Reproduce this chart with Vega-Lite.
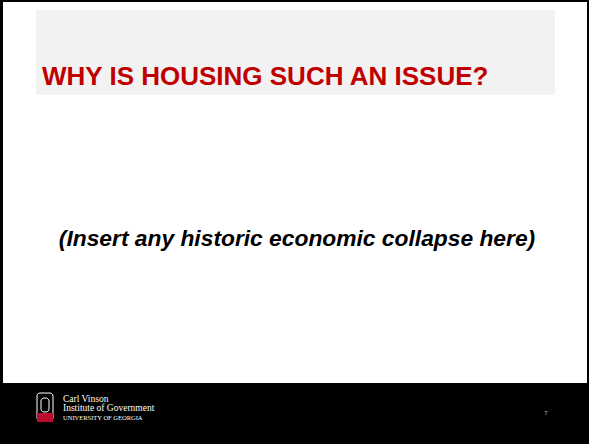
{
  "$schema": "https://vega.github.io/schema/vega-lite/v6.json",
  "width": 589,
  "height": 444,
  "padding": 0,
  "autosize": "none",
  "background": "#000000",
  "config": {"view": {"stroke": null}},
  "encoding": {
    "x": {"field": "x", "type": "quantitative", "scale": {"domain": [0, 589], "nice": false, "zero": false}, "axis": null},
    "y": {"field": "y", "type": "quantitative", "scale": {"domain": [0, 444], "nice": false, "zero": false, "reverse": true}, "axis": null}
  },
  "layer": [
    {
      "data": {"values": [{"x": 3, "x2": 587, "y": 2, "y2": 383}]},
      "mark": {"type": "rect", "fill": "#ffffff"},
      "encoding": {"x2": {"field": "x2"}, "y2": {"field": "y2"}}
    },
    {
      "data": {"values": [{"x": 36, "x2": 555, "y": 10, "y2": 95}]},
      "mark": {"type": "rect", "fill": "#f2f2f2"},
      "encoding": {"x2": {"field": "x2"}, "y2": {"field": "y2"}}
    },
    {
      "data": {"values": [{"label": "WHY IS HOUSING SUCH AN ISSUE?", "x": 42, "y": 85}]},
      "mark": {"type": "text", "align": "left", "baseline": "alphabetic", "font": "Liberation Sans", "fontWeight": "bold", "fontSize": 26, "fill": "#c00000"},
      "encoding": {"text": {"field": "label"}}
    },
    {
      "data": {"values": [{"label": "(Insert any historic economic collapse here)", "x": 297, "y": 246}]},
      "mark": {"type": "text", "align": "center", "baseline": "alphabetic", "font": "Liberation Sans", "fontWeight": "bold", "fontStyle": "italic", "fontSize": 22.8, "fill": "#000000"},
      "encoding": {"text": {"field": "label"}}
    },
    {
      "data": {"values": [{"x": 37, "x2": 53, "y": 393, "y2": 421}]},
      "mark": {"type": "rect", "fill": null, "stroke": "#ffffff", "strokeWidth": 1, "cornerRadius": 3},
      "encoding": {"x2": {"field": "x2"}, "y2": {"field": "y2"}}
    },
    {
      "data": {"values": [{"x": 41, "x2": 49, "y": 398, "y2": 412}]},
      "mark": {"type": "rect", "fill": null, "stroke": "#ffffff", "strokeWidth": 1, "cornerRadius": 3},
      "encoding": {"x2": {"field": "x2"}, "y2": {"field": "y2"}}
    },
    {
      "data": {"values": [{"x": 37, "x2": 53, "y": 413, "y2": 422}]},
      "mark": {"type": "rect", "fill": "#ba0c2f"},
      "encoding": {"x2": {"field": "x2"}, "y2": {"field": "y2"}}
    },
    {
      "data": {"values": [
        {"label": "Carl Vinson", "x": 63, "y": 402},
        {"label": "Institute of Government", "x": 63, "y": 411}
      ]},
      "mark": {"type": "text", "align": "left", "baseline": "alphabetic", "font": "Liberation Serif", "fontSize": 9.5, "fill": "#ffffff"},
      "encoding": {"text": {"field": "label"}}
    },
    {
      "data": {"values": [{"label": "UNIVERSITY OF GEORGIA", "x": 63, "y": 420}]},
      "mark": {"type": "text", "align": "left", "baseline": "alphabetic", "font": "Liberation Serif", "fontSize": 6.5, "fill": "#ffffff"},
      "encoding": {"text": {"field": "label"}}
    },
    {
      "data": {"values": [{"label": "7", "x": 546, "y": 415}]},
      "mark": {"type": "text", "align": "center", "baseline": "alphabetic", "font": "Liberation Sans", "fontSize": 6, "fill": "#c0c0c0"},
      "encoding": {"text": {"field": "label"}}
    }
  ]
}
